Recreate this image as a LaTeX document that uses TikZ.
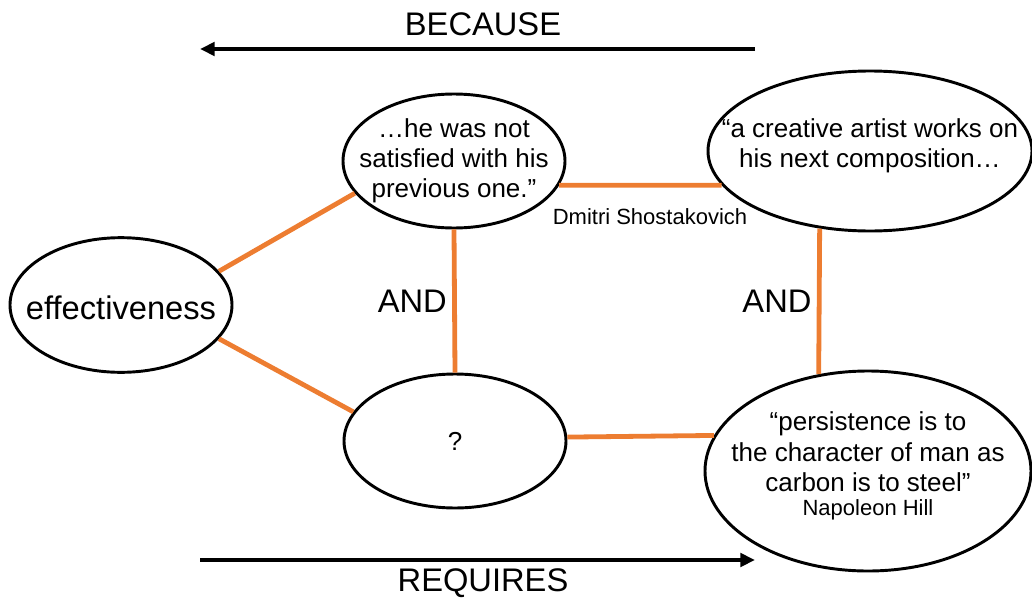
\documentclass[tikz,border=0pt]{standalone}
\usepackage{fontspec}
\setmainfont{Liberation Sans}
\usetikzlibrary{shapes.geometric,arrows.meta}
\definecolor{linkorange}{RGB}{237,125,49}
\tikzset{
  bubble/.style={ellipse,draw,line width=2.2pt,inner sep=0pt},
  link/.style={draw=linkorange,line width=3.6pt},
  bigtext/.style={font=\fontsize{24.5}{28}\selectfont},
  quotetext/.style={font=\fontsize{19.5}{21.5}\selectfont,align=center},
  smalltext/.style={font=\fontsize{16.5}{19}\selectfont},
}
\begin{document}
\begin{tikzpicture}[x=0.75pt,y=-0.75pt,>={Triangle[length=11pt,width=10pt]}]
            \useasboundingbox (0,0) rectangle (1032,607);
            % direction arrows
            \node[bigtext] (because) at (483,24) {BECAUSE};
            \node[bigtext] (requires) at (483,583) {REQUIRES};
            \coordinate (bctail) at (755,49);
            \coordinate (bchead) at (200,49);
            \coordinate (rqtail) at (200,560);
            \coordinate (rqhead) at (755,560);
            \draw[->,line width=3pt] (bctail) -- (bchead);
            \draw[->,line width=3pt] (rqtail) -- (rqhead);
            % ellipses, text set as centre labels
            \node[bubble,minimum width=166.5pt,minimum height=101pt,
                label={[bigtext,yshift=-2pt]center:effectiveness}] (eff) at (121,305) {};
            \node[bubble,minimum width=166.5pt,minimum height=100.5pt,
                label={[quotetext,font=\fontsize{19.5}{22.5}\selectfont]center:…he was not\\satisfied with his\\previous one.”}] (tm) at (454,161) {};
            \node[bubble,minimum width=243pt,minimum height=120pt,
                label={[quotetext,font=\fontsize{19.5}{22.5}\selectfont,yshift=4pt]center:“a creative artist works on\\his next composition…}] (tr) at (870,151) {};
            \node[bubble,minimum width=166.5pt,minimum height=100.5pt,
                label={[quotetext]center:?}] (q) at (455,441) {};
            \node[bubble,minimum width=244.5pt,minimum height=150pt,
                label={[quotetext,font=\fontsize{19.5}{23}\selectfont,yshift=3.75pt]center:“persistence is to\\the character of man as\\carbon is to steel”\\[-5pt]{\fontsize{16.5}{19}\selectfont Napoleon Hill}}] (br) at (868,471) {};
            \node[smalltext] (dmitri) at (650,217) {Dmitri Shostakovich};
            % links
            \draw[link] (eff.19) -- (tm.198);
            \draw[link] (eff.-19) -- (q.164);
            \draw[link] (tm.south) --node[midway,left,bigtext,inner sep=4pt]{AND} (q.north);
            \draw[link] (tm.-13) -- (tr.193);
            \draw[link] (tr.237) --node[midway,left,bigtext,inner sep=4pt]{AND} (br.117);
            \draw[link] (q.2) -- (br.167.5);
        \end{tikzpicture}
\end{document}
